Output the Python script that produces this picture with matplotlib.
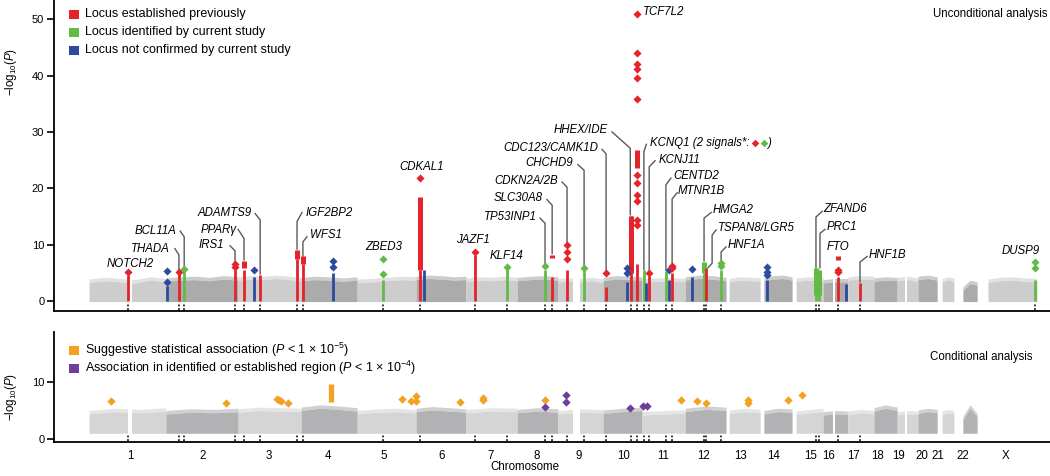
import numpy as np
import matplotlib
matplotlib.use('Agg')
import matplotlib.pyplot as plt
from matplotlib.patches import Rectangle

plt.rcParams['font.family'] = ['Liberation Sans', 'DejaVu Sans']
plt.rcParams['mathtext.fontset'] = 'custom'
plt.rcParams['mathtext.rm'] = 'Liberation Sans'
plt.rcParams['mathtext.it'] = 'Liberation Sans:italic'
plt.rcParams['font.size'] = 8

# chromosome blocks along the genome axis (cumulative position, Mb)
chrom_names = ['1', '2', '3', '4', '5', '6', '7', '8', '9', '10', '11', '12',
               '13', '14', '15', '16', '17', '18', '19', '20', '21', '22', 'X']
chrom_start = [0, 248, 481, 684, 865, 1055, 1216, 1381, 1513, 1658, 1784, 1923,
               2065, 2177, 2281, 2368, 2448, 2532, 2607, 2674, 2752, 2819, 2900]
chrom_end = [248, 481, 684, 865, 1055, 1216, 1381, 1513, 1658, 1784, 1923, 2055,
             2165, 2268, 2368, 2448, 2532, 2607, 2674, 2736, 2790, 2865, 3058]
chrom_tick = [132, 365, 581, 771, 952, 1136, 1294, 1445, 1581, 1723, 1852, 1981,
              2103, 2207, 2329, 2387, 2465, 2545, 2610, 2687, 2739, 2819, 2955]
data_gaps = [(126, 139), (1561, 1584), (2400, 2406), (2632, 2639)]

# rough upper envelope of the grey background cloud, per chromosome
top_env = [[3.9, 4.2, 4.0, 3.8, 4.3, 4.0], [4.1, 4.3, 4.4, 4.2, 4.5, 4.3],
           [4.3, 4.5, 4.4, 4.6, 4.4, 4.2], [4.2, 4.4, 4.3, 4.1, 4.3],
           [3.9, 4.0, 4.2, 4.4, 4.3], [4.4, 4.6, 4.5, 4.3, 4.4],
           [4.1, 4.3, 4.2, 4.4, 4.2], [4.2, 4.4, 4.5, 4.3],
           [4.0, 4.1, 4.0, 4.2, 3.9], [4.2, 4.5, 4.4, 4.3], [4.0, 4.1, 4.2, 4.0],
           [4.3, 4.6, 4.5, 4.2], [4.0, 4.3, 4.2, 4.1], [4.2, 4.5, 4.6, 4.3],
           [4.1, 4.3, 4.2], [3.8, 4.0, 4.0], [4.3, 4.5, 4.4], [4.1, 4.3, 4.2],
           [4.2, 4.4, 4.1], [4.4, 4.6, 4.3], [4.0, 4.3, 4.1], [2.5, 3.7, 3.4],
           [3.9, 4.2, 4.3, 4.1, 4.0]]
bottom_env = [[5.0, 5.4, 5.2, 5.5], [5.0, 5.3, 5.2, 5.4], [5.3, 5.6, 5.5, 5.4],
              [5.6, 6.0, 5.8, 5.5], [5.0, 5.3, 5.4, 5.2], [5.4, 5.7, 5.5, 5.3],
              [5.2, 5.5, 5.4], [5.2, 5.5, 5.3], [5.0, 5.3, 5.2], [5.1, 5.4, 5.6],
              [4.8, 5.0, 5.1], [5.4, 5.8, 5.6], [5.1, 5.4, 5.2], [5.0, 5.4, 5.3],
              [4.9, 5.2, 5.4], [4.8, 5.0, 4.9], [4.9, 5.2, 5.0], [5.5, 6.0, 5.6],
              [4.8, 5.0, 4.9], [5.1, 5.4, 5.2], [4.9, 5.2, 5.0], [4.0, 6.0, 4.5]]

# loci in the unconditional analysis
# status: est = established previously, new = identified by current study, nc = not confirmed
locus_pos = [126, 252, 290, 307, 471, 500, 532, 552, 671, 690, 787, 948, 1068, 1081,
             1245, 1348, 1471, 1494, 1542, 1597, 1668, 1736, 1748, 1768, 1790, 1797,
             1807, 1861, 1871, 1881, 1945, 1984, 1990, 2039, 2187, 2344, 2355, 2416,
             2442, 2487, 3052]
locus_status = ['est', 'nc', 'est', 'new', 'est', 'est', 'nc', 'est', 'est', 'est',
                'nc', 'new', 'est', 'nc', 'est', 'new', 'new', 'est', 'est', 'new',
                'est', 'nc', 'est', 'est', 'new', 'nc', 'est', 'new', 'nc', 'est',
                'nc', 'new', 'est', 'new', 'nc', 'new', 'new', 'est', 'nc', 'est', 'new']
locus_top = [4.6, 2.6, 5.0, 5.3, 5.5, 5.5, 4.3, 4.6, 7.5, 6.5, 5.0, 3.7, 5.5, 5.5,
             8.2, 5.8, 5.5, 4.3, 5.5, 5.5, 2.5, 3.4, 15.1, 6.5, 5.5, 3.2, 4.5, 5.4,
             3.7, 4.9, 4.3, 5.0, 5.8, 5.5, 3.7, 5.8, 5.5, 4.3, 3.0, 3.2, 3.7]
locus_blob = [None, None, None, None, None, (5.8, 7.1), None, None, (7.5, 9.0),
              (6.5, 7.9), None, None, (5.5, 18.5), None, None, None, None, (7.6, 8.1),
              None, None, None, None, (5.0, 15.1), (23.6, 26.8), None, None, None,
              None, None, None, None, (5.0, 7.0), None, None, None, (1.0, 5.8),
              (1.0, 5.5), (7.2, 7.9), None, None, None]
locus_dots = [[5.1], [3.3, 5.4], [5.2], [5.6], [6.1, 6.5], [], [5.5], [], [], [],
              [6.1, 7.1], [4.8, 7.5], [21.8], [], [8.7], [6.1], [6.3], [],
              [7.4, 8.7, 9.9], [5.8], [4.9], [5.0, 5.8], [],
              [13.5, 14.4, 17.7, 18.8, 21.0, 22.3, 35.8, 39.5, 41.1, 42.0, 44.0, 50.9],
              [], [], [4.9], [], [5.5], [5.8, 6.3], [5.6], [], [], [6.2, 6.8],
              [4.7, 5.2, 6.1], [], [], [5.1, 5.5], [], [], [5.8, 7.0]]

# conditional analysis signals
orange_x = [70, 443, 607, 613, 619, 642, 1011, 1040, 1055, 1055, 1197, 1271, 1271,
            1470, 1910, 1962, 1990, 2127, 2127, 2254, 2301]
orange_y = [6.7, 6.4, 7.0, 6.8, 6.6, 6.4, 7.0, 6.7, 7.5, 6.7, 6.5, 7.2, 6.9,
            6.8, 6.8, 6.7, 6.4, 6.9, 6.3, 6.9, 7.8]
orange_col_x = 782
orange_col_range = (6.5, 9.6)
purple_x = [1470, 1539, 1539, 1745, 1788, 1801]
purple_y = [5.6, 7.7, 6.5, 5.5, 5.8, 5.8]

colors = {'est': '#e4232b', 'new': '#63bb47', 'nc': '#2c4a9e'}
orange = '#f4a020'
purple = '#6f3f98'
grey_light = ['#cdcdcd', '#d5d5d5']
grey_dark = ['#ababab', '#b2b1b3']
lead_col = '#5a5a5a'

# gene labels: text, x, y, alignment, leader polyline
labels = [
    ('NOTCH2', 134, 6.5, 'center', None),
    ('THADA', 261, 9.2, 'right', [(277, 9.3), (290, 8.2), (290, 5.4)]),
    ('BCL11A', 281, 12.5, 'right', [(294, 12.4), (307, 11.4), (307, 5.8)]),
    ('IRS1', 436, 9.9, 'right', [(455, 9.8), (471, 8.9), (471, 6.6)]),
    ('PPAR\u03b3', 477, 12.6, 'right', [(481, 12.7), (500, 11.1), (500, 7.3)]),
    ('ADAMTS9', 526, 15.6, 'right', [(536, 15.5), (552, 14.4), (552, 4.8)]),
    ('IGF2BP2', 697, 15.6, 'left', [(687, 15.7), (671, 14.1), (671, 9.2)]),
    ('WFS1', 713, 11.7, 'left', [(703, 11.4), (690, 10.5), (690, 8.0)]),
    ('ZBED3', 950, 9.6, 'center', None),
    ('CDKAL1', 1074, 23.8, 'center', None),
    ('JAZF1', 1239, 10.8, 'center', None),
    ('KLF14', 1348, 7.9, 'center', None),
    ('TP53INP1', 1445, 14.9, 'right', [(1455, 14.7), (1471, 13.8), (1471, 6.6)]),
    ('SLC30A8', 1465, 18.2, 'right', [(1477, 18.0), (1494, 17.0), (1494, 8.4)]),
    ('CDKN2A/2B', 1513, 21.3, 'right', [(1526, 21.1), (1542, 20.2), (1542, 10.3)]),
    ('CHCHD9', 1561, 24.4, 'right', [(1577, 24.2), (1597, 23.2), (1597, 6.0)]),
    ('CDC123/CAMK1D', 1642, 27.1, 'right', [(1655, 26.9), (1668, 26.1), (1668, 5.2)]),
    ('HHEX/IDE', 1674, 30.3, 'right', [(1687, 30.0), (1746, 27.1), (1746, 15.3)]),
    ('TCF7L2', 1787, 51.3, 'left', None),
    ('KCNQ1 (2 signals*:', 1810, 28.1, 'left', [(1798, 27.8), (1790, 26.5), (1790, 5.6)]),
    ('KCNJ11', 1836, 25.1, 'left', [(1826, 24.9), (1807, 23.8), (1807, 5.0)]),
    ('CENTD2', 1884, 22.2, 'left', [(1877, 21.8), (1861, 20.6), (1861, 5.5)]),
    ('MTNR1B', 1900, 19.6, 'left', [(1897, 19.2), (1881, 18.1), (1881, 6.4)]),
    ('HMGA2', 2013, 16.1, 'left', [(2007, 15.7), (1984, 14.7), (1984, 7.1)]),
    ('TSPAN8/LGR5', 2029, 13.0, 'left', [(2023, 12.6), (2010, 11.7), (2010, 6.7), (1997, 5.9)]),
    ('HNF1A', 2061, 9.9, 'left', [(2055, 9.6), (2039, 8.7), (2039, 7.0)]),
    ('ZFAND6', 2368, 16.3, 'left', [(2365, 15.9), (2345, 14.9), (2345, 5.9)]),
    ('PRC1', 2381, 13.2, 'left', [(2374, 12.7), (2358, 12.0), (2358, 5.9)]),
    ('FTO', 2416, 9.5, 'center', None),
    ('HNF1B', 2516, 8.2, 'left', [(2510, 7.9), (2487, 6.9), (2487, 3.4)]),
    ('DUSP9', 3007, 8.9, 'center', None),
]

W, H = 1050, 476
fig = plt.figure(figsize=(W / 100, H / 100), dpi=100)
ax1 = fig.add_axes([54 / W, (H - 311) / H, 996 / W, 311 / H])
ax2 = fig.add_axes([54 / W, (H - 442) / H, 996 / W, 110 / H])


def draw_background(ax, env_list, base, shades):
    for i, env in enumerate(env_list):
        xs = np.linspace(chrom_start[i], chrom_end[i], len(env))
        env = np.array(env)
        ax.fill_between(xs, base, env - 0.6, color=shades[i % 2], lw=0, zorder=1)
        # speckled upper fringe of the cloud, drawn paler
        ax.fill_between(xs, env - 0.6, env, color=shades[i % 2], alpha=0.6, lw=0, zorder=1)
    for lo, hi in data_gaps:
        ax.fill_between([lo, hi], base - 0.1, 7, color='white', lw=0, zorder=1.5)


for ax in (ax1, ax2):
    ax.set_xlim(-113, 3100)
    for s in ('top', 'right'):
        ax.spines[s].set_visible(False)
    for s in ('left', 'bottom'):
        ax.spines[s].set_linewidth(1.3)
    ax.tick_params(axis='y', direction='out', length=5, width=1.2, labelsize=8, pad=2)

# ---- top panel: unconditional analysis
draw_background(ax1, top_env, -0.1, [grey_light[0], grey_dark[0]])

for i, x in enumerate(locus_pos):
    c = colors[locus_status[i]]
    ax1.vlines(x, 0, locus_top[i], color=c, lw=2.0, zorder=3)
    if locus_blob[i] is not None:
        ax1.vlines(x, locus_blob[i][0], locus_blob[i][1], color=c, lw=3.6, zorder=3)
    if locus_dots[i]:
        ax1.scatter([x] * len(locus_dots[i]), locus_dots[i], marker='D', s=17,
                    color=c, lw=0, zorder=4)

hit_pos = [x for x, s in zip(locus_pos, locus_status) if s != 'nc']
ax1.vlines(hit_pos, -1.6, -0.35, color='black', lw=1.1, linestyles=(0, (1.2, 1.2)), zorder=3)

for name, x, y, ha, lead in labels:
    ax1.text(x, y, name, ha=ha, va='center', fontsize=8.3, style='italic', zorder=5)
    if lead is not None:
        lx, ly = zip(*lead)
        ax1.plot(lx, ly, color=lead_col, lw=1.0, zorder=2.5, solid_joinstyle='miter')

# the two KCNQ1 signal symbols
ax1.scatter([2148], [28.1], marker='D', s=15, color=colors['est'], lw=0, zorder=5)
ax1.scatter([2177], [28.1], marker='D', s=15, color=colors['new'], lw=0, zorder=5)
ax1.text(2186, 28.1, ')', ha='left', va='center', fontsize=8.3, style='italic')

ax1.set_ylim(-1.77, 53.4)
ax1.set_yticks([0, 10, 20, 30, 40, 50])
ax1.set_xticks([])
ax1.text(3093, 51.0, 'Unconditional analysis', ha='right', va='center', fontsize=8.3)

# ---- bottom panel: conditional analysis
draw_background(ax2, bottom_env, 1.0, [grey_light[1], grey_dark[1]])
ax2.vlines(orange_col_x, orange_col_range[0], orange_col_range[1], color=orange, lw=3.8, zorder=3)
ax2.scatter(orange_x, orange_y, marker='D', s=18, color=orange, lw=0, zorder=4)
ax2.scatter(purple_x, purple_y, marker='D', s=18, color=purple, lw=0, zorder=4)
hit_pos_auto = [x for x in hit_pos if x < 2880]
ax2.vlines(hit_pos_auto, -0.35, 0.9, color='black', lw=1.1, linestyles=(0, (1.2, 1.2)), zorder=3)

ax2.set_ylim(-0.53, 18.8)
ax2.set_yticks([0, 10])
ax2.set_xticks(chrom_tick)
ax2.set_xticklabels(chrom_names, fontsize=8.3)
ax2.tick_params(axis='x', length=0, pad=6)
ax2.text(3045, 14.4, 'Conditional analysis', ha='right', va='center', fontsize=8.3)

# ---- legends (drawn by hand to match the original layout)
def legend_row(y_px, color, text):
    fig.add_artist(Rectangle((69 / W, 1 - (y_px + 4.5) / H), 9.5 / W, 9 / H,
                             transform=fig.transFigure, color=color, lw=0))
    fig.text(85 / W, 1 - y_px / H, text, ha='left', va='center', fontsize=9)


legend_row(14.5, colors['est'], 'Locus established previously')
legend_row(32.5, colors['new'], 'Locus identified by current study')
legend_row(50.5, colors['nc'], 'Locus not confirmed by current study')
legend_row(350, orange, r'Suggestive statistical association ($P$ < 1 $\times$ 10$^{-5}$)')
legend_row(368, purple, r'Association in identified or established region ($P$ < 1 $\times$ 10$^{-4}$)')

fig.text(11 / W, 1 - 72 / H, r'$-$log$_{10}$($P$)', rotation=90, ha='center', va='center', fontsize=8.3)
fig.text(11 / W, 1 - 397 / H, r'$-$log$_{10}$($P$)', rotation=90, ha='center', va='center', fontsize=8.3)
fig.text(525 / W, 1 - 467 / H, 'Chromosome', ha='center', va='center', fontsize=8.3)

fig.savefig('out.png', dpi=100)
